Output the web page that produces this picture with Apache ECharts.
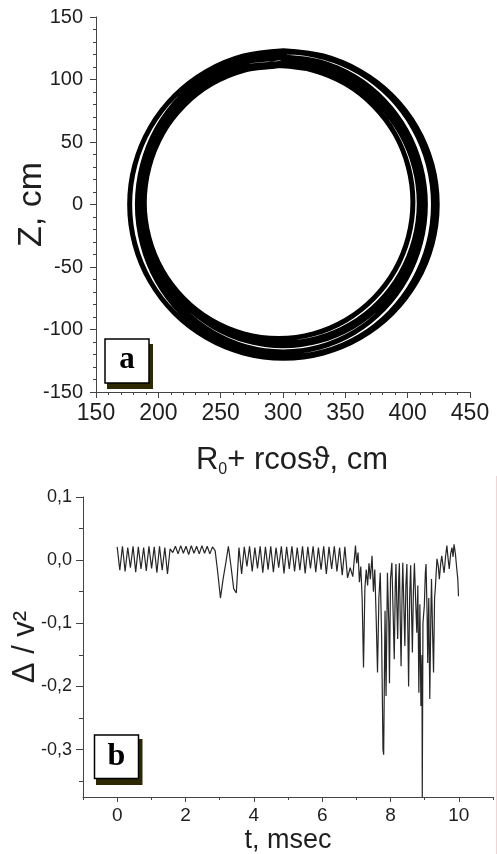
<!DOCTYPE html>
<html>
<head>
<meta charset="utf-8">
<script src="https://cdn.jsdelivr.net/npm/echarts@6/dist/echarts.min.js"></script>
<style>
  html, body { margin: 0; padding: 0; background: #fff; }
  #chart { width: 497px; height: 854px; }
</style>
</head>
<body>
<div id="chart"></div>
<script>
// Panel a: guiding-centre orbit, successive turns as [R0 + r cos(theta), Z] in cm.
// Each turn is traced from the top of the ring.
const turn1 = [[300.4,123.0],[268.4,118.8],[238.7,106.5],[213.1,87.0],[193.5,61.5],[181.2,31.8],[177.0,0],[181.2,-31.8],[193.5,-61.5],[213.1,-87.0],[238.7,-106.5],[268.4,-118.8],[300.4,-123.0],[332.3,-118.8],[362.0,-106.5],[387.6,-87.0],[407.2,-61.5],[419.5,-31.8],[423.7,0],[419.5,31.8],[407.2,61.5],[387.6,87.0],[362.0,106.5],[332.3,118.8],[300.4,123.0]];
const turn2 = [[302.0,122.0],[271.2,117.8],[242.6,105.7],[218.0,86.3],[199.1,61.0],[187.3,31.6],[183.2,0],[187.3,-31.6],[199.1,-61.0],[218.0,-86.3],[242.6,-105.7],[271.2,-117.8],[302.0,-122.0],[332.7,-117.8],[361.3,-105.7],[385.9,-86.3],[404.8,-61.0],[416.7,-31.6],[420.7,0],[416.7,31.6],[404.8,61.0],[385.9,86.3],[361.3,105.7],[332.7,117.8],[302.0,122.0]];
const turn3 = [[300.1,118.0],[270.6,114.0],[243.1,102.2],[219.4,83.4],[201.3,59.0],[189.9,30.5],[186.0,0],[189.9,-30.5],[201.3,-59.0],[219.4,-83.4],[243.1,-102.2],[270.6,-114.0],[300.1,-118.0],[329.6,-114.0],[357.2,-102.2],[380.8,-83.4],[398.9,-59.0],[410.3,-30.5],[414.2,0],[410.3,30.5],[398.9,59.0],[380.8,83.4],[357.2,102.2],[329.6,114.0],[300.1,118.0]];
const turn4 = [[300.1,114.0],[271.3,110.1],[244.4,98.8],[221.3,80.8],[203.6,57.3],[192.5,29.9],[188.7,0.5],[192.5,-28.9],[203.6,-56.3],[221.3,-79.8],[244.4,-97.8],[271.3,-109.1],[300.1,-113.0],[328.9,-109.1],[355.8,-97.8],[378.9,-79.8],[396.6,-56.3],[407.7,-28.9],[411.5,0.5],[407.7,29.9],[396.6,57.3],[378.9,80.8],[355.8,98.8],[328.9,110.1],[300.1,114.0]];
const turn5 = [[299.0,113.0],[270.5,109.2],[243.9,98.0],[221.0,80.2],[203.5,57.0],[192.5,30.0],[188.7,1.0],[192.5,-28.0],[203.5,-55.0],[221.0,-78.2],[243.9,-96.0],[270.5,-107.2],[299.0,-111.0],[327.6,-107.2],[354.2,-96.0],[377.0,-78.2],[394.5,-55.0],[405.5,-28.0],[409.3,1.0],[405.5,30.0],[394.5,57.0],[377.0,80.2],[354.2,98.0],[327.6,109.2],[299.0,113.0]];
const turn6 = [[296.5,111.1],[268.6,107.4],[242.6,96.5],[220.3,79.1],[203.1,56.5],[192.4,30.2],[188.7,2.0],[192.4,-26.3],[203.1,-52.6],[220.3,-75.2],[242.6,-92.6],[268.6,-103.5],[296.5,-107.2],[324.3,-103.5],[350.3,-92.6],[372.6,-75.2],[389.8,-52.6],[400.5,-26.3],[404.2,2.0],[400.5,30.2],[389.8,56.5],[372.6,79.1],[350.3,96.5],[324.3,107.4],[296.5,111.1]];

// Panel b, quiet part: Delta / v^2 sampled every sampleStepMs ms from t = 0
const sampleStepMs = 0.0775;
const deltaEarly = [
  0.021,-0.016, 0.022,-0.018, 0.020,-0.012, 0.022,-0.019, 0.021,-0.014,
  0.020,-0.017, 0.022,-0.013, 0.021,-0.020, 0.022,-0.016, 0.020,-0.022,
  0.018, 0.012, 0.022, 0.010, 0.023, 0.011, 0.022, 0.009, 0.023, 0.011,
  0.022, 0.010, 0.023, 0.011, 0.022, 0.010, 0.021, 0.015,-0.020,-0.060,
 -0.030,-0.005, 0.022,-0.010,-0.045,-0.052, 0.020,-0.022, 0.021,-0.010,
  0.022,-0.018, 0.020,-0.013, 0.022,-0.020, 0.021,-0.015, 0.022,-0.019,
  0.020,-0.012, 0.022,-0.021, 0.021,-0.014, 0.022,-0.018, 0.020,-0.016,
  0.022,-0.021, 0.021,-0.013, 0.022,-0.019, 0.020,-0.015, 0.022,-0.022,
  0.021,-0.014, 0.022,-0.018, 0.020,-0.024, 0.021,-0.028,-0.012,-0.026
];

// Panel b, burst part: times (ms) and Delta / v^2
const lateTimes = [
  6.975, 7.01, 7.05, 7.09, 7.13, 7.17, 7.21, 7.25, 7.29, 7.33,
  7.37, 7.41, 7.46, 7.50, 7.54, 7.58, 7.62, 7.66, 7.70, 7.74,
  7.78, 7.80, 7.84, 7.87, 7.91, 7.95, 7.97, 8.00, 8.04, 8.08,
  8.11, 8.14, 8.16, 8.19, 8.21, 8.24, 8.26, 8.29, 8.31, 8.34,
  8.36, 8.39, 8.42, 8.45, 8.48, 8.51, 8.53, 8.56, 8.59, 8.62,
  8.64, 8.67, 8.70, 8.74, 8.77, 8.80, 8.83, 8.86, 8.89, 8.92,
  8.93, 8.95, 8.99, 9.02, 9.04, 9.07, 9.09, 9.12, 9.15, 9.18,
  9.20, 9.23, 9.26, 9.29, 9.31, 9.36, 9.40, 9.43, 9.47, 9.50,
  9.54, 9.57, 9.61, 9.65, 9.69, 9.72, 9.76, 9.80, 9.83, 9.86,
  9.90, 9.94, 9.97, 9.99
];
const lateDelta = [
  0.023,-0.005, 0.012,-0.035,-0.010,-0.060,-0.170,-0.045,-0.015,-0.040,
 -0.005,-0.030, 0.007,-0.050,-0.015,-0.090,-0.178,-0.060,-0.020,-0.120,
 -0.300,-0.308,-0.080,-0.215,-0.020,-0.100,-0.195,-0.030,-0.004,-0.090,
 -0.157,-0.040,-0.006,-0.080,-0.125,-0.030,-0.005,-0.110,-0.168,-0.050,
 -0.004,-0.070,-0.136,-0.040,-0.006,-0.120,-0.200,-0.060,-0.008,-0.090,
 -0.146,-0.050,-0.005,-0.070,-0.115,-0.040,-0.210,-0.070,-0.231,-0.150,
 -0.375,-0.100,-0.072,-0.020,-0.006,-0.080,-0.163,-0.060,-0.220,-0.090,
 -0.030,-0.110,-0.178,-0.060,-0.046, 0.002,-0.010,-0.030,-0.005, 0.007,
 -0.010,-0.020, 0.005, 0.023, 0.000,-0.014, 0.010, 0.020, 0.005, 0.025,
  0.010,-0.014,-0.030,-0.057
];

const deltaTicks = [-0.3, -0.2, -0.1, 0, 0.1];
const deltaMinorTicks = [-0.35, -0.25, -0.15, -0.05, 0.05];
const tTicks = [0, 2, 4, 6, 8, 10];
const tMinorTicks = [-1, 1, 3, 5, 7, 9, 11];

const FONT = "'Liberation Sans', Arial, Helvetica, sans-serif";
const AXIS_COLOR = '#444';
const TEXT_COLOR = '#1e1e1e';

const orbit = [].concat(turn1, turn2, turn3, turn4, turn5, turn6);
const signal = deltaEarly.map((v, i) => [+(i * sampleStepMs).toFixed(4), v])
  .concat(lateTimes.map((t, i) => [t, lateDelta[i]]));

const lineAxis = {
  axisLine: { show: true, onZero: false, lineStyle: { color: AXIS_COLOR, width: 1 } },
  splitLine: { show: false },
  minorSplitLine: { show: false },
  nameMoveOverlap: false
};

const chart = echarts.init(document.getElementById('chart'), null, { renderer: 'canvas' });

chart.setOption({
  animation: false,
  backgroundColor: '#fff',
  grid: [
    { left: 96, top: 17, width: 374, height: 375, containLabel: false, outerBoundsMode: 'none' },
    { left: 83, top: 497, width: 410, height: 300, containLabel: false, outerBoundsMode: 'none' }
  ],
  xAxis: [
    Object.assign({}, lineAxis, {
      gridIndex: 0, type: 'value', position: 'bottom', min: 150, max: 450, interval: 50,
      axisTick: { show: true, length: 6, lineStyle: { color: AXIS_COLOR } },
      minorTick: { show: true, splitNumber: 5, length: 3, lineStyle: { color: AXIS_COLOR } },
      axisLabel: { fontSize: 23, fontFamily: FONT, color: TEXT_COLOR, margin: 10, showMinLabel: true, showMaxLabel: true },
      name: '{n|R}{s|0}{n|+ rcos\u03D1, cm}',
      nameLocation: 'middle', nameGap: 50,
      nameTextStyle: {
        fontFamily: FONT, fontSize: 31, color: TEXT_COLOR, padding: [0, 0, 0, 18],
        rich: {
          n: { fontFamily: FONT, fontSize: 31, color: TEXT_COLOR, lineHeight: 36 },
          s: { fontFamily: FONT, fontSize: 16, color: TEXT_COLOR, lineHeight: 6, verticalAlign: 'bottom' }
        }
      }
    }),
    Object.assign({}, lineAxis, {
      gridIndex: 1, type: 'value', position: 'bottom', min: -1, max: 11,
      axisTick: { show: true, length: 5, customValues: tTicks, lineStyle: { color: AXIS_COLOR } },
      axisLabel: { fontSize: 19, fontFamily: FONT, color: TEXT_COLOR, margin: 9, customValues: tTicks },
      name: 't, msec', nameLocation: 'middle', nameGap: 30,
      nameTextStyle: { fontFamily: FONT, fontSize: 27, color: TEXT_COLOR }
    }),
    {
      gridIndex: 1, type: 'value', position: 'bottom', min: -1, max: 11,
      axisLine: { show: false, onZero: false },
      axisTick: { show: true, length: 3, customValues: tMinorTicks, lineStyle: { color: AXIS_COLOR } },
      axisLabel: { show: false },
      splitLine: { show: false }
    }
  ],
  yAxis: [
    Object.assign({}, lineAxis, {
      gridIndex: 0, type: 'value', position: 'left', min: -150, max: 150, interval: 50,
      axisTick: { show: true, length: 6, lineStyle: { color: AXIS_COLOR } },
      minorTick: { show: true, splitNumber: 5, length: 3, lineStyle: { color: AXIS_COLOR } },
      axisLabel: { fontSize: 20, fontFamily: FONT, color: TEXT_COLOR, margin: 13, showMinLabel: true, showMaxLabel: true },
      name: 'Z, cm', nameLocation: 'middle', nameGap: 47,
      nameTextStyle: { fontFamily: FONT, fontSize: 34, color: TEXT_COLOR }
    }),
    Object.assign({}, lineAxis, {
      gridIndex: 1, type: 'value', position: 'left', min: -0.375, max: 0.1,
      axisTick: { show: true, length: 7, customValues: deltaTicks, lineStyle: { color: AXIS_COLOR } },
      axisLabel: {
        fontSize: 18, fontFamily: FONT, color: TEXT_COLOR, margin: 11, customValues: deltaTicks,
        formatter: v => Number(v).toFixed(1).replace('.', ',')
      },
      name: '\u0394 / v\u00B2', nameLocation: 'middle', nameGap: 42,
      nameTextStyle: { fontFamily: FONT, fontSize: 31, color: TEXT_COLOR }
    }),
    {
      gridIndex: 1, type: 'value', position: 'left', min: -0.375, max: 0.1,
      axisLine: { show: false, onZero: false },
      axisTick: { show: true, length: 4, customValues: deltaMinorTicks, lineStyle: { color: AXIS_COLOR } },
      axisLabel: { show: false },
      splitLine: { show: false }
    }
  ],
  series: [
    {
      name: 'orbit', type: 'line', xAxisIndex: 0, yAxisIndex: 0,
      data: orbit, showSymbol: false, symbol: 'none', smooth: 0.34, silent: true,
      lineStyle: { color: '#000', width: 5, join: 'round', cap: 'round' }
    },
    {
      name: 'delta', type: 'line', xAxisIndex: 1, yAxisIndex: 1,
      data: signal, showSymbol: false, symbol: 'none', silent: true,
      lineStyle: { color: '#262626', width: 1.2 }
    }
  ],
  graphic: [
    { type: 'rect', shape: { x: 107, y: 344, width: 46, height: 45 }, style: { fill: '#2e2900' } },
    { type: 'rect', shape: { x: 105, y: 339, width: 44, height: 44 }, style: { fill: '#fff', stroke: '#000', lineWidth: 1.5 } },
    { type: 'text', x: 127, y: 360,
      style: { text: 'a', fontSize: 31, fontWeight: 'bold', fontFamily: "'Liberation Serif', 'Times New Roman', serif",
               fill: '#000', align: 'center', verticalAlign: 'middle', textAlign: 'center', textVerticalAlign: 'middle' } },
    { type: 'rect', shape: { x: 96, y: 739, width: 46.5, height: 46 }, style: { fill: '#2e2900' } },
    { type: 'rect', shape: { x: 94.5, y: 735, width: 44, height: 43.5 }, style: { fill: '#fff', stroke: '#000', lineWidth: 1.5 } },
    { type: 'text', x: 116.5, y: 757,
      style: { text: 'b', fontSize: 32, fontWeight: 'bold', fontFamily: "'Liberation Serif', 'Times New Roman', serif",
               fill: '#000', align: 'center', verticalAlign: 'middle', textAlign: 'center', textVerticalAlign: 'middle' } },
    { type: 'line', shape: { x1: 496.5, y1: 476, x2: 496.5, y2: 854 }, style: { stroke: '#f2d2d2', lineWidth: 1 } }
  ]
});
</script>
</body>
</html>
